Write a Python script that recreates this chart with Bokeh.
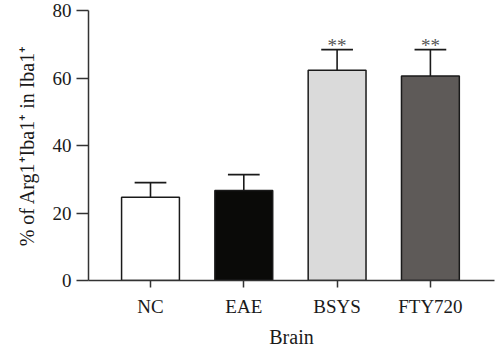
from bokeh.plotting import figure
from bokeh.models import ColumnDataSource, FixedTicker, Range1d
from bokeh.embed import file_html
from bokeh.resources import INLINE
from bokeh.core.properties import value

categories = ["NC", "EAE", "BSYS", "FTY720"]
means = [24.7, 26.7, 62.3, 60.6]
errors = [4.3, 4.7, 6.1, 7.8]
colors = ["#ffffff", "#0a0a08", "#dadada", "#5e5a58"]
signif = ["", "", "**", "**"]
y_ticks = [0, 20, 40, 60, 80]

xs = list(range(1, len(categories) + 1))
upper = [m + e for m, e in zip(means, errors)]

src = ColumnDataSource(dict(x=xs, top=means, upper=upper, color=colors, sig=signif))

FONT = "Liberation Serif"
TXT = "#1a1a1a"

p = figure(width=500, height=352, output_backend="svg", toolbar_location=None,
           x_range=Range1d(0.3355, 4.687), y_range=Range1d(0, 80),
           min_border_left=88, min_border_right=6, min_border_top=10, min_border_bottom=72)
p.outline_line_color = None
p.grid.grid_line_color = None
p.background_fill_color = None
p.border_fill_color = None

p.vbar(x="x", top="top", bottom=0, width=0.62, fill_color="color",
       line_color="#1a1a1a", line_width=1.5, source=src)

p.segment(x0="x", y0="top", x1="x", y1="upper", line_color="#1a1a1a", line_width=1.6, source=src)
p.segment(x0=[x - 0.17 for x in xs], y0=upper, x1=[x + 0.17 for x in xs], y1=upper,
          line_color="#1a1a1a", line_width=1.8)

p.text(x="x", y="upper", text="sig", source=src, text_align="center", text_baseline="alphabetic",
       text_font=value(FONT), text_font_size="19px", text_color="#555555", y_offset=-4)

for ax in (p.xaxis[0], p.yaxis[0]):
    ax.axis_line_color = "#333333"
    ax.axis_line_width = 1.5
    ax.major_tick_line_color = "#333333"
    ax.major_tick_line_width = 1.5
    ax.minor_tick_line_color = None
    ax.major_tick_in = 0
    ax.major_label_text_font = FONT
    ax.major_label_text_font_size = "19px"
    ax.major_label_text_color = TXT
    ax.axis_label_text_font = FONT
    ax.axis_label_text_font_size = "20px"
    ax.axis_label_text_font_style = "normal"
    ax.axis_label_text_color = TXT

p.xaxis.ticker = FixedTicker(ticks=xs)
p.xaxis.major_label_overrides = {x: c for x, c in zip(xs, categories)}
p.xaxis.major_tick_out = 7
p.xaxis.major_label_standoff = 8
p.xaxis.axis_label = "Brain"
p.xaxis.axis_label_standoff = 6

p.yaxis.ticker = FixedTicker(ticks=y_ticks)
p.yaxis.major_tick_out = 12
p.yaxis.major_label_standoff = 5
p.yaxis.axis_label = "% of Arg1\u207aIba1\u207a in Iba1\u207a"
p.yaxis.axis_label_standoff = 12

open("out.html", "w").write(file_html(p, INLINE))
